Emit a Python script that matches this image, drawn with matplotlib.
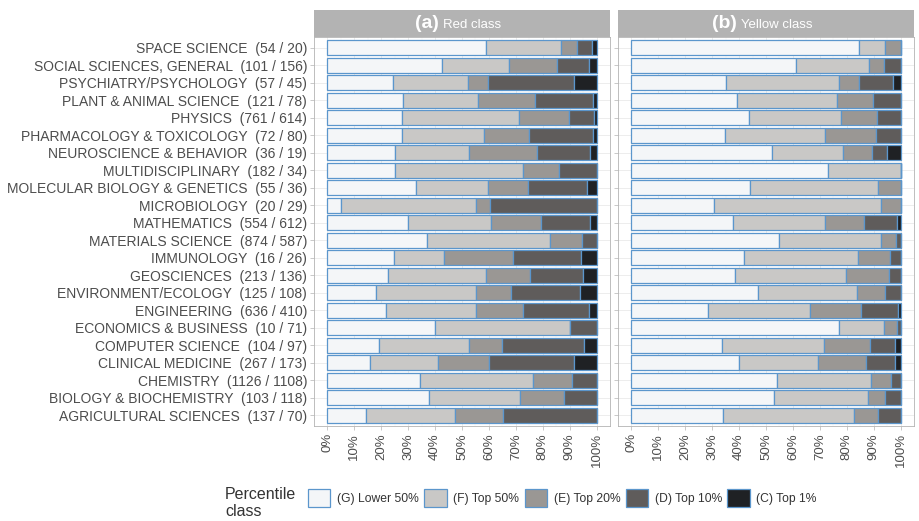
import numpy as np
import matplotlib
matplotlib.use("Agg")
import matplotlib.pyplot as plt
from matplotlib.patches import Patch, Rectangle

plt.rcParams['font.family'] = ['Liberation Sans', 'DejaVu Sans']

# Subject categories, top to bottom, with (red / yellow) counts
categories = [
    "SPACE SCIENCE  (54 / 20)",
    "SOCIAL SCIENCES, GENERAL  (101 / 156)",
    "PSYCHIATRY/PSYCHOLOGY  (57 / 45)",
    "PLANT & ANIMAL SCIENCE  (121 / 78)",
    "PHYSICS  (761 / 614)",
    "PHARMACOLOGY & TOXICOLOGY  (72 / 80)",
    "NEUROSCIENCE & BEHAVIOR  (36 / 19)",
    "MULTIDISCIPLINARY  (182 / 34)",
    "MOLECULAR BIOLOGY & GENETICS  (55 / 36)",
    "MICROBIOLOGY  (20 / 29)",
    "MATHEMATICS  (554 / 612)",
    "MATERIALS SCIENCE  (874 / 587)",
    "IMMUNOLOGY  (16 / 26)",
    "GEOSCIENCES  (213 / 136)",
    "ENVIRONMENT/ECOLOGY  (125 / 108)",
    "ENGINEERING  (636 / 410)",
    "ECONOMICS & BUSINESS  (10 / 71)",
    "COMPUTER SCIENCE  (104 / 97)",
    "CLINICAL MEDICINE  (267 / 173)",
    "CHEMISTRY  (1126 / 1108)",
    "BIOLOGY & BIOCHEMISTRY  (103 / 118)",
    "AGRICULTURAL SCIENCES  (137 / 70)",
]

class_labels = ["(G) Lower 50%", "(F) Top 50%", "(E) Top 20%", "(D) Top 10%", "(C) Top 1%"]
class_colors = ["#f4f6f8", "#c9c8c6", "#9a9794", "#5f5c5b", "#1f2124"]

# Shares (%) per class for the red class
red_g = [59.0, 42.7, 24.4, 28.0, 27.7, 27.7, 25.1, 25.2, 32.8, 4.9, 30.0,
         37.1, 24.8, 22.5, 18.2, 21.6, 39.9, 19.2, 15.7, 34.3, 37.7, 14.4]
red_f = [27.8, 24.7, 28.0, 28.1, 43.3, 30.6, 27.5, 47.3, 27.0, 50.2, 30.8,
         45.7, 18.6, 36.5, 36.9, 33.6, 50.1, 33.4, 25.5, 42.1, 33.9, 33.0]
red_e = [6.0, 17.9, 7.4, 20.9, 18.7, 16.7, 25.2, 13.4, 14.9, 5.3, 18.7,
         11.9, 25.5, 16.4, 13.1, 17.3, 0.0, 12.2, 18.9, 14.5, 16.2, 17.8]
red_d = [5.6, 11.8, 31.7, 21.8, 9.3, 23.8, 19.7, 14.1, 21.8, 39.6, 18.0,
         5.3, 25.4, 19.6, 25.6, 24.6, 10.0, 30.5, 31.4, 9.1, 12.2, 34.8]
red_c = [1.6, 2.9, 8.5, 1.2, 1.0, 1.2, 2.5, 0.0, 3.5, 0.0, 2.5,
         0.0, 5.7, 5.0, 6.2, 2.9, 0.0, 4.7, 8.5, 0.0, 0.0, 0.0]

# Shares (%) per class for the yellow class
yel_g = [84.6, 61.2, 35.1, 39.4, 43.8, 34.7, 52.2, 73.0, 44.2, 30.7, 37.6,
         55.0, 41.9, 38.4, 46.9, 28.6, 77.1, 33.6, 40.0, 54.0, 53.1, 34.1]
yel_f = [9.8, 27.0, 42.0, 37.1, 34.2, 37.4, 26.4, 27.0, 47.5, 62.2, 34.5,
         37.7, 42.3, 41.5, 37.0, 37.8, 16.8, 37.9, 29.3, 35.2, 34.8, 48.5]
yel_e = [5.6, 5.7, 7.4, 13.3, 13.4, 18.9, 10.8, 0.0, 8.3, 7.1, 14.3,
         5.6, 11.8, 15.7, 10.5, 18.8, 4.6, 17.1, 18.0, 7.2, 6.3, 9.1]
yel_d = [0.0, 6.1, 12.8, 10.2, 8.6, 9.0, 5.4, 0.0, 0.0, 0.0, 12.1,
         1.7, 4.0, 4.4, 5.6, 13.9, 1.5, 9.3, 10.8, 3.6, 5.8, 8.3]
yel_c = [0.0, 0.0, 2.7, 0.0, 0.0, 0.0, 5.2, 0.0, 0.0, 0.0, 1.5,
         0.0, 0.0, 0.0, 0.0, 0.9, 0.0, 2.1, 1.9, 0.0, 0.0, 0.0]

panels = [
    ("(a)", "Red class", [red_g, red_f, red_e, red_d, red_c]),
    ("(b)", "Yellow class", [yel_g, yel_f, yel_e, yel_d, yel_c]),
]

W, H = 919, 521
fig = plt.figure(figsize=(W / 100, H / 100), dpi=100)
fig.patch.set_facecolor("white")


def px_axes(x0, y0, w, h):
    return fig.add_axes([x0 / W, 1 - (y0 + h) / H, w / W, h / H])


edge_blue = "#5b96cc"
text_grey = "#4d4d4d"
grid_grey = "#e6e6e6"
panel_x = [314, 618]
panel_top, panel_h, panel_w = 37, 389, 296
strip_top, strip_h = 10, 27

n = len(categories)
ypos = np.arange(n)
renderer = fig.canvas.get_renderer()

for i, (tag, title, series) in enumerate(panels):
    ax = px_axes(panel_x[i], panel_top, panel_w, panel_h)
    left = np.zeros(n)
    for vals, col in zip(series, class_colors):
        v = np.asarray(vals) / 100.0
        ax.barh(ypos, v, left=left, height=0.86, color=col,
                edgecolor=edge_blue, linewidth=0.9, zorder=3)
        left += v
    ax.set_xlim(-0.05, 1.05)
    ax.set_ylim(n - 0.4, -0.6)
    ax.set_xticks(np.linspace(0, 1, 11))
    ax.set_xticklabels([f"{int(t)}%" for t in np.linspace(0, 100, 11)],
                       rotation=90, fontsize=9.5, color=text_grey)
    ax.set_xticks(np.linspace(0.05, 0.95, 10), minor=True)
    ax.set_yticks(ypos)
    if i == 0:
        ax.set_yticklabels(categories, fontsize=10, color=text_grey)
    else:
        ax.set_yticklabels([])
    ax.tick_params(axis="both", which="major", length=3, width=0.5,
                   color="#b3b3b3", pad=2)
    ax.tick_params(axis="x", which="minor", length=0)
    ax.grid(True, which="major", color=grid_grey, linewidth=0.5, zorder=0)
    ax.grid(True, which="minor", axis="x", color="#f2f2f2", linewidth=0.3, zorder=0)
    for sp in ax.spines.values():
        sp.set_color("#b3b3b3")
        sp.set_linewidth(0.6)

    # facet strip
    sax = px_axes(panel_x[i], strip_top, panel_w, strip_h)
    sax.set_xlim(0, 1)
    sax.set_ylim(0, 1)
    sax.axis("off")
    sax.add_patch(Rectangle((0, 0), 1, 1, transform=sax.transAxes,
                            facecolor="#b3b3b3", edgecolor="none"))
    t1 = sax.text(0, 0.5, tag, fontsize=14, fontweight="bold", color="white",
                  va="center", ha="left")
    t2 = sax.text(0, 0.45, title, fontsize=9.5, color="white", va="center", ha="left")
    w1 = t1.get_window_extent(renderer).width
    w2 = t2.get_window_extent(renderer).width
    gap = 4
    total = w1 + gap + w2
    start = (panel_w - total) / 2 - 4
    t1.set_x(start / panel_w)
    t2.set_x((start + w1 + gap) / panel_w)

# legend along the bottom
handles = [Patch(facecolor=c, edgecolor=edge_blue, linewidth=0.9, label=l)
           for c, l in zip(class_colors, class_labels)]
leg = fig.legend(handles=handles, loc="center left", ncol=5,
                 bbox_to_anchor=(308 / W, 1 - 498 / H), frameon=False,
                 fontsize=8.7, handlelength=1.85, handleheight=1.85,
                 handletextpad=0.55, columnspacing=0.45, borderpad=0,
                 borderaxespad=0)
for t in leg.get_texts():
    t.set_color("#333333")
fig.text(225 / W, 1 - 503 / H, "Percentile\nclass", fontsize=11.5,
         color="#333333", va="center", ha="left", linespacing=1.15)

fig.savefig("out.png", dpi=100)
